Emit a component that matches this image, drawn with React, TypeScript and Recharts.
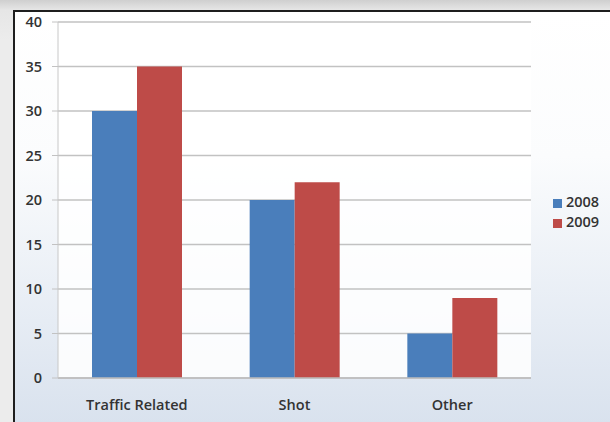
import { BarChart, Bar, XAxis, YAxis, CartesianGrid, Legend } from 'recharts'

const categories = ['Traffic Related', 'Shot', 'Other']
const series2008 = [30, 20, 5]
const series2009 = [35, 22, 9]
const yTicks = [0, 5, 10, 15, 20, 25, 30, 35, 40]
const edgeTicks = [0, 1, 2, 3]

const data = categories.map((name, i) => ({
	name,
	y2008: series2008[i],
	y2009: series2009[i]
}))

const font = '"Open Sans", "Liberation Sans", sans-serif'

export default function App() {
	return (
		<div
			style={{
				position: 'fixed',
				left: 0,
				top: 0,
				width: 610,
				height: 422,
				background: 'linear-gradient(to bottom, #cfcfcf 0px, #e6e6e6 10px, #ececec 40px)',
				overflow: 'hidden',
				fontFamily: font
			}}
		>
			<div
				style={{
					position: 'absolute',
					left: 13,
					top: 10,
					width: 597,
					height: 412,
					borderTop: '2px solid #1e1e1e',
					borderLeft: '2px solid #1e1e1e',
					background: 'linear-gradient(to bottom, #ffffff 0%, #fbfcfd 35%, #e6ecf4 75%, #d9e2ee 100%)'
				}}
			>
				<BarChart
					width={595}
					height={410}
					data={data}
					margin={{ top: 10, right: 79, left: 1, bottom: 0 }}
					barGap={0}
					barSize={45}
				>
					<CartesianGrid vertical={false} stroke="#c2c2c2" strokeWidth={1.5} fill="#ffffff" fillOpacity={0.85} />
					<XAxis
						xAxisId="edge"
						type="number"
						domain={[0, 3]}
						ticks={edgeTicks}
						height={0}
						tick={{ fill: 'none', fontSize: 1 }}
						tickFormatter={() => ''}
						tickSize={5}
						tickLine={{ stroke: '#b8b8b8', strokeWidth: 1.5 }}
						axisLine={false}
					/>
					<XAxis
						dataKey="name"
						height={44}
						tickSize={0}
						tickMargin={22}
						axisLine={{ stroke: '#bdbdbd', strokeWidth: 1.5 }}
						tickLine={false}
						tick={{ fill: '#333', fontSize: 14.5, fontWeight: 600 }}
					/>
					<YAxis
						domain={[0, 40]}
						ticks={yTicks}
						width={42}
						tickSize={6}
						tickMargin={10}
						interval={0}
						axisLine={{ stroke: '#c8c8c8' }}
						tickLine={{ stroke: '#c2c2c2' }}
						tick={{ fill: '#333', fontSize: 14.5, fontWeight: 600 }}
					/>
					<Legend
						layout="vertical"
						align="center"
						verticalAlign="middle"
						iconType="square"
						iconSize={9}
						wrapperStyle={{ left: 538, top: 180, width: 'auto', lineHeight: '20px', fontSize: 14.5, fontWeight: 600 }}
						formatter={(value) => <span style={{ color: '#333' }}>{value}</span>}
					/>
					<Bar dataKey="y2008" name="2008" fill="#4a7ebb" isAnimationActive={false} />
					<Bar dataKey="y2009" name="2009" fill="#be4b48" isAnimationActive={false} />
				</BarChart>
			</div>
		</div>
	)
}
